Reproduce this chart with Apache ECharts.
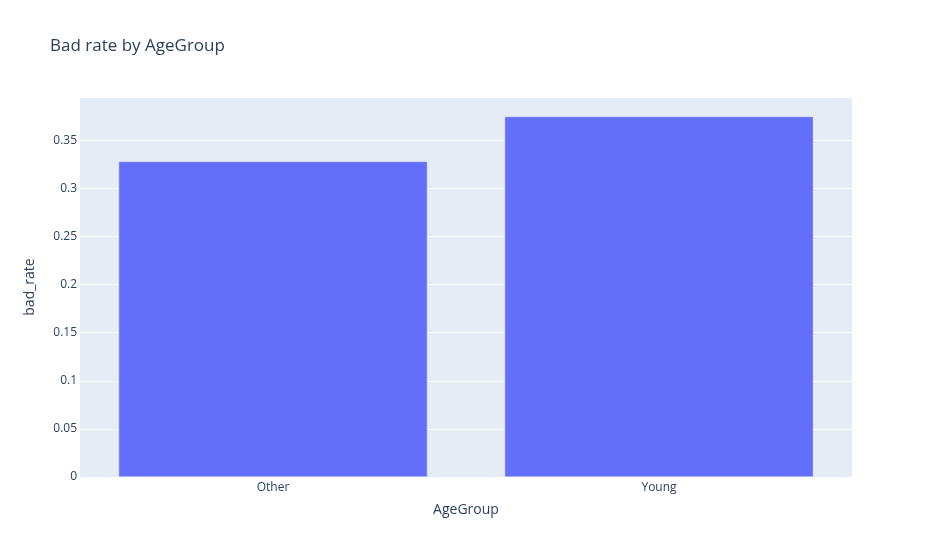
<!DOCTYPE html>
<html>
<head>
<meta charset="utf-8">
<script src="https://cdn.jsdelivr.net/npm/echarts@6/dist/echarts.min.js"></script>
<style>
  html, body { margin: 0; padding: 0; background: #fff; }
  #chart { width: 932px; height: 552px; }
</style>
</head>
<body>
<div id="chart"></div>
<script>
// data
const categories = ['Other', 'Young'];
const badRate = [0.328, 0.3747];
const yMax = 0.395;

var font = '"Open Sans", "Noto Sans", sans-serif';
var ink = '#2a3f5f';

echarts.init(document.querySelector('#chart')).setOption({
    animation: false,
    textStyle: { fontFamily: font },
    title: {
        text: 'Bad rate by AgeGroup',
        left: 45,
        top: 33,
        textStyle: { fontFamily: font, fontSize: 17, fontWeight: 'normal', color: ink }
    },
    grid: {
        left: 80,
        right: 80,
        top: 97,
        bottom: 75,
        show: true,
        backgroundColor: '#E5ECF6',
        borderWidth: 0
    },
    xAxis: {
        type: 'category',
        data: categories,
        name: 'AgeGroup',
        nameLocation: 'middle',
        nameGap: 26,
        nameTextStyle: { fontFamily: font, fontSize: 14, color: ink },
        axisLine: { show: false },
        axisTick: { show: false },
        axisLabel: { margin: 5, fontFamily: font, fontSize: 12, color: ink }
    },
    yAxis: {
        type: 'value',
        min: 0,
        max: yMax,
        interval: 0.05,
        name: 'bad_rate',
        nameLocation: 'middle',
        nameGap: 43,
        nameTextStyle: { fontFamily: font, fontSize: 14, color: ink },
        axisLine: { show: false },
        axisTick: { show: false },
        axisLabel: {
            margin: 3,
            fontFamily: font,
            fontSize: 12,
            color: ink,
            showMaxLabel: false
        },
        splitLine: { lineStyle: { color: '#ffffff', width: 1 } }
    },
    series: [{
        type: 'bar',
        data: badRate,
        barCategoryGap: '20%',
        itemStyle: {
            color: '#636EFA',
            borderColor: '#E5ECF6',
            borderWidth: 0.5
        }
    }]
});
</script>
</body>
</html>
